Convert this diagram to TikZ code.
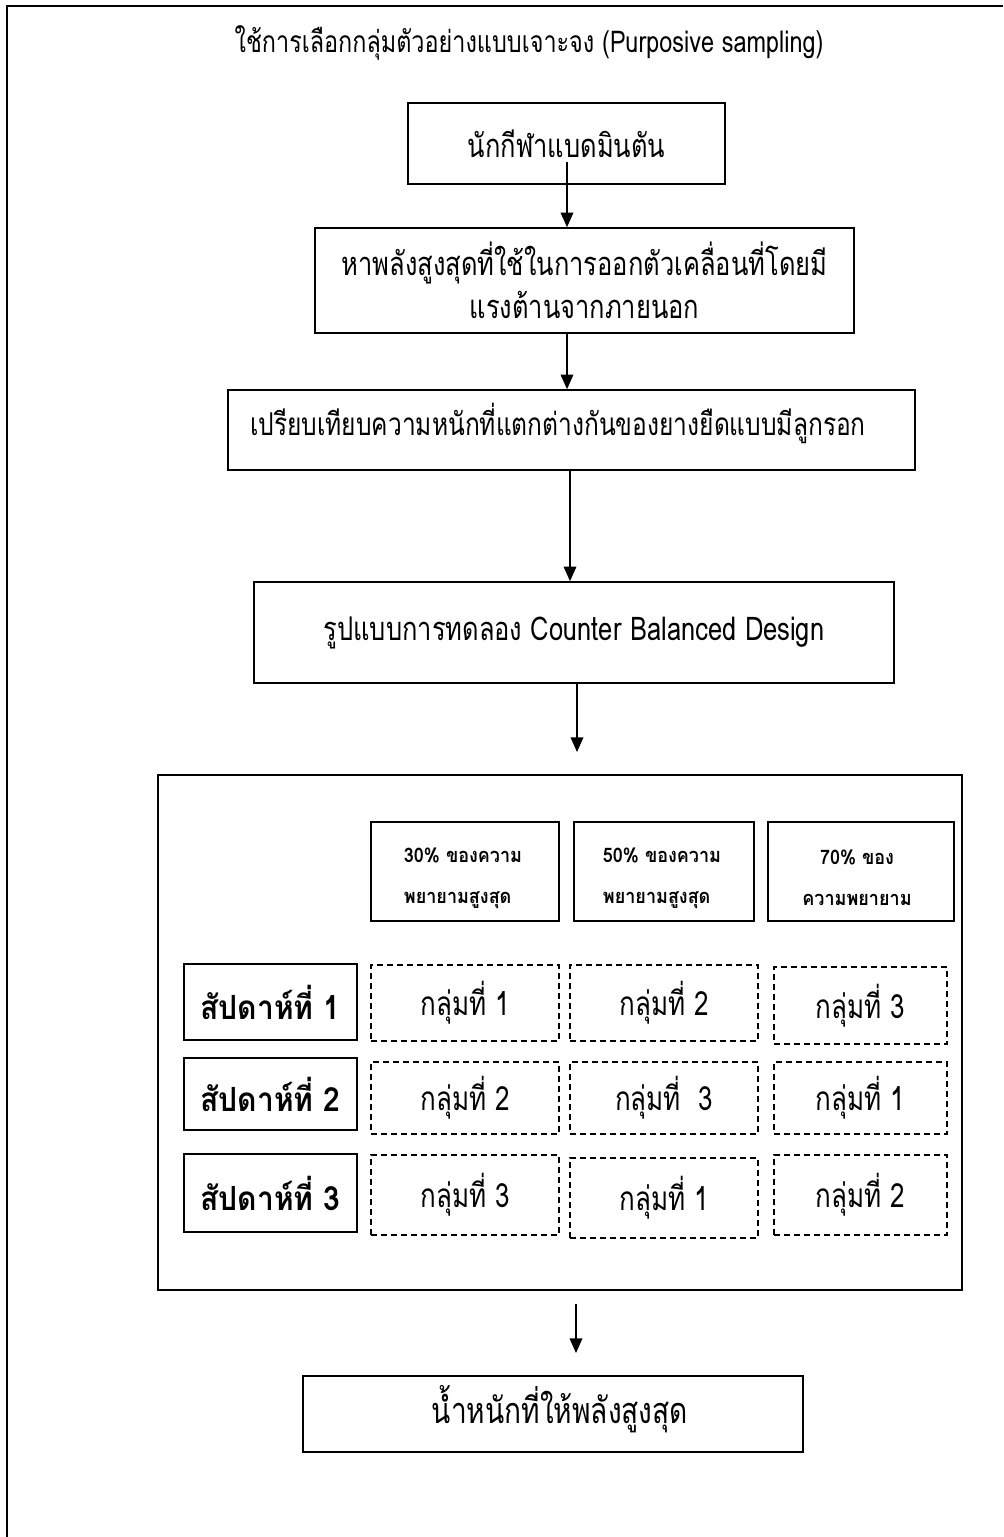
\documentclass[tikz,border=0pt]{standalone}
\usepackage{fontspec}
\setmainfont{Loma}[Script=Thai]
\newfontfamily\narrowthai{Loma}[Script=Thai, FakeStretch=0.78]
\newfontfamily\boldthai{Loma Bold}[Script=Thai, FakeStretch=0.9]
\usetikzlibrary{arrows.meta,calc}
\newcommand\pxu[1]{#1*0.75pt}
\begin{document}
\begin{tikzpicture}[x=0.75pt,y=-0.75pt,
  box/.style={draw, line width=1.2pt, inner sep=0pt, align=center},
  dbox/.style={draw, line width=1.1pt, dash pattern=on 4.5pt off 3pt, inner sep=0pt, align=center},
  arr/.style={line width=1.1pt, -{Triangle[width=9.5pt,length=11pt]}},
  body/.style={font=\narrowthai\fontsize{24.5}{32}\selectfont},
  cell/.style={font=\narrowthai\fontsize{25}{28}\selectfont},
  head/.style={font=\boldthai\fontsize{15}{31}\selectfont, inner sep=0pt},
  week/.style={font=\boldthai\fontsize{25}{28}\selectfont}]
\useasboundingbox (0,0) rectangle (1003,1537);
\draw[line width=1.8pt] (1003,6) -- (7,6) -- (7,1537);

\node[font=\narrowthai\fontsize{22.5}{28}\selectfont] (title) at (529,43) {ใช้การเลือกกลุ่มตัวอย่างแบบเจาะจง (Purposive sampling)};

\node[box, body, minimum width={\pxu{317}}, minimum height={\pxu{81}}] (b1) at (566.5,143.5) {นักกีฬาแบดมินตัน};
\node[box, body, minimum width={\pxu{539}}, minimum height={\pxu{105}}] (b2) at (584.5,280.5) {หาพลังสูงสุดที่ใช้ในการออกตัวเคลื่อนที่โดยมี\\แรงต้านจากภายนอก};
\node[box, minimum width={\pxu{687}}, minimum height={\pxu{80}}] (b3) at (571.5,430) {};
\node[font=\narrowthai\fontsize{23.6}{32}\selectfont] (t3) at (558,423) {เปรียบเทียบความหนักที่แตกต่างกันของยางยืดแบบมีลูกรอก};
\node[box, body, minimum width={\pxu{640}}, minimum height={\pxu{101}}] (b4) at (574,632.5) {รูปแบบการทดลอง Counter Balanced Design};

\node[box, minimum width={\pxu{804}}, minimum height={\pxu{515}}] (big) at (560,1032.5) {};

\node[box, minimum width={\pxu{188}}, minimum height={\pxu{99}}] (h1) at (465,871.5) {};
\node[box, minimum width={\pxu{180}}, minimum height={\pxu{99}}] (h2) at (664,871.5) {};
\node[box, minimum width={\pxu{186}}, minimum height={\pxu{99}}] (h3) at (861,871.5) {};
\node[head, align=left] (th1) at (463,878) {30\% ของความ\\พยายามสูงสุด};
\node[head, align=left] (th2) at (662,878) {50\% ของความ\\พยายามสูงสุด};
\node[head, align=center] (th3) at (857,878) {70\% ของ\\ความพยายาม};

\node[box, week, minimum width={\pxu{173}}, minimum height={\pxu{76}}] (r1) at (270.5,1002) {สัปดาห์ที่ 1};
\node[box, week, minimum width={\pxu{173}}, minimum height={\pxu{72}}] (r2) at (270.5,1094) {สัปดาห์ที่ 2};
\node[box, week, minimum width={\pxu{173}}, minimum height={\pxu{78}}] (r3) at (270.5,1193) {สัปดาห์ที่ 3};

\node[dbox, cell, minimum width={\pxu{188}}, minimum height={\pxu{76}}] (d11) at (465,1003) {กลุ่มที่ 1};
\node[dbox, cell, minimum width={\pxu{188}}, minimum height={\pxu{76}}] (d12) at (664,1003) {กลุ่มที่ 2};
\node[dbox, cell, minimum width={\pxu{173}}, minimum height={\pxu{77}}] (d13) at (860.5,1005.5) {กลุ่มที่ 3};
\node[dbox, cell, minimum width={\pxu{188}}, minimum height={\pxu{72}}] (d21) at (465,1098) {กลุ่มที่ 2};
\node[dbox, cell, minimum width={\pxu{188}}, minimum height={\pxu{72}}] (d22) at (664,1098) {กลุ่มที่~~3};
\node[dbox, cell, minimum width={\pxu{173}}, minimum height={\pxu{72}}] (d23) at (860.5,1098) {กลุ่มที่ 1};
\node[dbox, cell, minimum width={\pxu{188}}, minimum height={\pxu{80}}] (d31) at (465,1195) {กลุ่มที่ 3};
\node[dbox, cell, minimum width={\pxu{188}}, minimum height={\pxu{80}}] (d32) at (664,1198) {กลุ่มที่ 1};
\node[dbox, cell, minimum width={\pxu{173}}, minimum height={\pxu{80}}] (d33) at (860.5,1195) {กลุ่มที่ 2};

\node[box, minimum width={\pxu{500}}, minimum height={\pxu{76}}] (fin) at (553,1414) {};
\node[font=\narrowthai\fontsize{27}{32}\selectfont] (tf) at (560,1409) {น้ำหนักที่ให้พลังสูงสุด};

\coordinate (s1) at (567,162);
\coordinate (x3) at (570,0);
\coordinate (e4) at (577,752);
\coordinate (s5) at (576,1304);
\coordinate (e5) at (576,1353);
\draw[arr] (s1) -- (s1 |- b2.north);
\draw[arr] (s1 |- b2.south) -- (s1 |- b3.north);
\draw[arr] (x3 |- b3.south) -- (x3 |- b4.north);
\draw[arr] (e4 |- b4.south) -- (e4);
\draw[arr] (s5) -- (e5);
\end{tikzpicture}
\end{document}
